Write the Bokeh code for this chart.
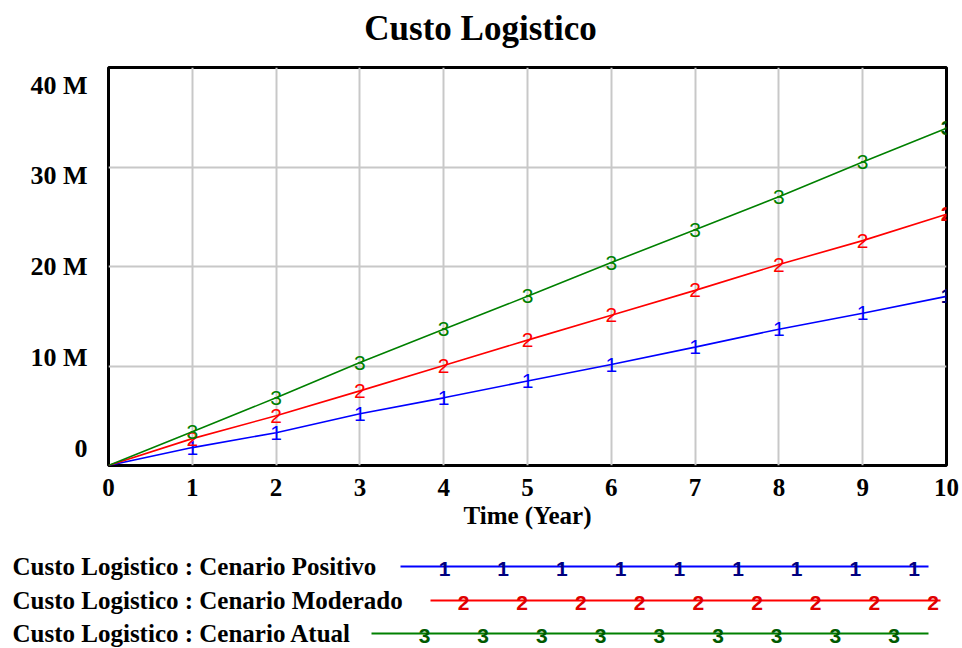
from bokeh.plotting import figure
from bokeh.layouts import column, row
from bokeh.models import Range1d, FixedTicker, CustomJSTickFormatter
from bokeh.core.properties import value
from bokeh.embed import file_html
from bokeh.resources import INLINE

# ---------------- data ----------------
title_text = "Custo Logistico"
x_label = "Time (Year)"
years = [0, 1, 2, 3, 4, 5, 6, 7, 8, 9, 10]
# values in millions
positivo = [0, 1.8, 3.3, 5.2, 6.8, 8.5, 10.15, 11.9, 13.7, 15.3, 17.0]
moderado = [0, 2.7, 5.0, 7.5, 10.05, 12.6, 15.1, 17.6, 20.2, 22.6, 25.25]
atual = [0, 3.4, 6.8, 10.35, 13.7, 17.0, 20.4, 23.7, 27.0, 30.5, 33.9]
series_names = ["Custo Logistico : Cenario Positivo",
                "Custo Logistico : Cenario Moderado",
                "Custo Logistico : Cenario Atual"]
series_ids = ["1", "2", "3"]
y_ticks = [0, 10, 20, 30, 40]
y_tick_labels = ["0", "10 M", "20 M", "30 M", "40 M"]
x_ticks = [0, 1, 2, 3, 4, 5, 6, 7, 8, 9, 10]

# ---------------- style ----------------
SERIF = value("Liberation Serif")
SANS = value("Liberation Sans")
line_colors = ["#0000ff", "#ff0000", "#008000"]
legend_mark_colors = ["#000080", "#e00000", "#005a00"]
W = 962
H0 = 56      # title strip
H1 = 484     # chart
H2 = 108     # legend strip
FRAME_H = 398
TOP = 11
ymax = y_ticks[-1]
label_inset_px = 17.5  # labels are spread a little inside the frame


def strip(height):
    f = figure(width=W, height=height, output_backend="svg", toolbar_location=None,
               x_range=Range1d(0, W), y_range=Range1d(0, height),
               x_axis_location=None, y_axis_location=None,
               min_border=0, min_border_left=0, min_border_right=0,
               min_border_top=0, min_border_bottom=0)
    f.grid.visible = False
    f.outline_line_color = None
    f.background_fill_color = "white"
    f.border_fill_color = "white"
    return f


# ---------------- title strip ----------------
t = strip(H0)
t.text([480], [H0 - 28], text=[title_text], text_align="center",
       text_baseline="middle", text_font=SERIF, text_font_style="bold",
       text_font_size="35px", text_color="black")

# ---------------- chart ----------------
p = figure(width=W, height=H1, output_backend="svg", toolbar_location=None,
           x_range=Range1d(0, 10), y_range=Range1d(0, ymax),
           min_border_left=108, min_border_right=16, min_border_top=TOP,
           min_border_bottom=H1 - TOP - FRAME_H)
p.outline_line_color = "black"
p.outline_line_width = 3
p.background_fill_color = "white"
p.border_fill_color = "white"

p.xaxis.ticker = FixedTicker(ticks=x_ticks)
p.xaxis.axis_line_color = None
p.xaxis.major_tick_line_color = None
p.xaxis.minor_tick_line_color = None
p.xaxis.major_tick_out = 0
p.xaxis.major_label_text_font = "Liberation Serif"
p.xaxis.major_label_text_font_style = "bold"
p.xaxis.major_label_text_font_size = "25px"
p.xaxis.major_label_text_color = "black"
p.xaxis.major_label_standoff = 13
p.xaxis.axis_label = x_label
p.xaxis.axis_label_text_font = "Liberation Serif"
p.xaxis.axis_label_text_font_style = "bold"
p.xaxis.axis_label_text_font_size = "25px"
p.xaxis.axis_label_text_color = "black"
p.xaxis.axis_label_standoff = 3

# y axis labels sit at positions spread evenly inside the frame
px_per_unit = FRAME_H / ymax
label_pos = [v + label_inset_px * (1 - 2 * v / ymax) / px_per_unit for v in y_ticks]
p.yaxis.ticker = FixedTicker(ticks=label_pos)
p.yaxis.formatter = CustomJSTickFormatter(args=dict(labels=y_tick_labels),
                                          code="return labels[index];")
p.yaxis.axis_line_color = None
p.yaxis.major_tick_line_color = None
p.yaxis.minor_tick_line_color = None
p.yaxis.major_tick_out = 0
p.yaxis.major_tick_in = 0
p.yaxis.major_label_standoff = 21
p.yaxis.major_label_text_font = "Liberation Serif"
p.yaxis.major_label_text_font_style = "bold"
p.yaxis.major_label_text_font_size = "26px"
p.yaxis.major_label_text_color = "black"

p.ygrid.ticker = FixedTicker(ticks=y_ticks)
p.xgrid.ticker = FixedTicker(ticks=x_ticks)
for g in (p.xgrid, p.ygrid):
    g.grid_line_color = "#c8c8c8"
    g.grid_line_width = 2

all_series = [positivo, moderado, atual]
for vals, col, sid, mcol in zip(all_series, line_colors, series_ids, legend_mark_colors):
    p.line(years, vals, line_color=col, line_width=1.6)
    p.text(years[1:-1], vals[1:-1], text=[sid] * (len(years) - 2),
           text_align="center", text_baseline="middle",
           text_font=SANS, text_font_size="21px", text_color=col)
    p.text([years[-1]], [vals[-1]], text=[sid], text_align="center",
           text_baseline="middle", text_font=SANS, text_font_style="bold",
           text_font_size="21px", text_color=mcol)

# ---------------- legend strip ----------------
q = strip(H2)
row_y = [82, 48, 15]
line_start = [400, 430, 371]
line_end = [928, 940, 928]
first_mark = [444, 463, 424]
mark_step = 58.7
n_marks = 9

for name, sid, col, mcol, ry, xs, xe, fm in zip(series_names, series_ids, line_colors,
                                               legend_mark_colors, row_y, line_start,
                                               line_end, first_mark):
    q.text([12], [ry], text=[name], text_align="left", text_baseline="middle",
           text_font=SERIF, text_font_style="bold", text_font_size="25px",
           text_color="black")
    q.line([xs, xe], [ry, ry], line_color=col, line_width=2)
    mx = [fm + i * mark_step for i in range(n_marks)]
    q.text(mx, [ry - 2] * n_marks, text=[sid] * n_marks, text_align="center",
           text_baseline="middle", text_font=SANS, text_font_style="bold",
           text_font_size="21px", text_color=mcol)

layout = column(row(t), row(p), row(q), spacing=0)
open("out.html", "w").write(file_html(layout, INLINE))
